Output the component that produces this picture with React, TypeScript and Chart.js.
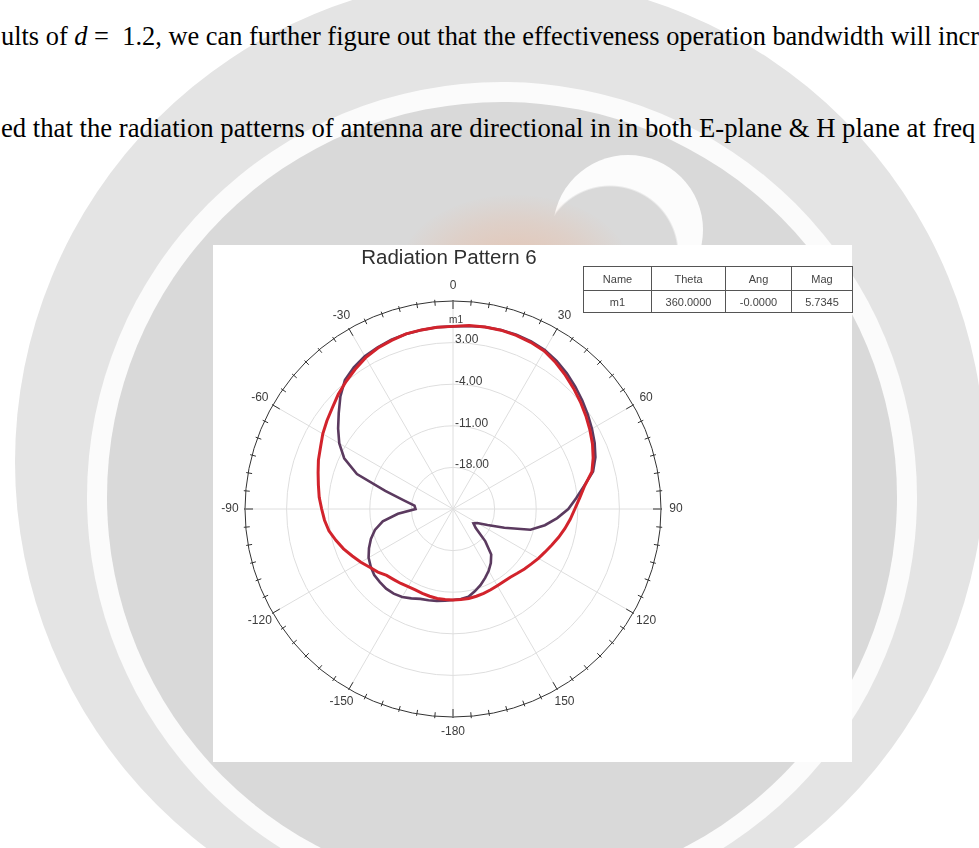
import React, { useEffect, useRef } from 'react';
import { Chart, registerables } from 'chart.js';

Chart.register(...registerables);

// ---- data ----
const thetaDeg = [
  0, 5, 10, 15, 20, 25, 30, 35, 40, 45, 50, 55, 60, 65, 70, 75, 80, 85,
  90, 95, 100, 105, 110, 115, 120, 125, 130, 135, 140, 145, 150, 155, 160, 165, 170, 175,
  180, 185, 190, 195, 200, 205, 210, 215, 220, 225, 230, 235, 240, 245, 250, 255, 260, 265,
  270, 275, 280, 285, 290, 295, 300, 305, 310, 315, 320, 325, 330, 335, 340, 345, 350, 355,
];

const redGain = [
  5.73, 6.0, 6.1, 6.15, 6.1, 5.95, 5.7, 5.1, 4.4, 3.7, 3.0, 2.3, 1.6, 0.9, 0.1, -0.8, -2.5, -3.6,
  -4.5, -5.2, -5.9, -6.6, -7.3, -7.9, -8.4, -8.9, -9.3, -9.7, -10.0, -10.1, -10.1, -10.0, -9.9, -9.8, -9.7, -9.7,
  -9.7, -9.7, -9.7, -9.8, -9.9, -10.0, -9.9, -9.7, -9.5, -9.2, -8.5, -7.9, -7.1, -6.3, -5.4, -4.6, -3.8, -3.3,
  -2.9, -2.4, -2.0, -1.5, -0.9, -0.4, 0.3, 0.9, 1.5, 2.3, 3.0, 3.7, 4.4, 4.9, 5.2, 5.5, 5.6, 5.7,
];

const purpleGain = [
  5.73, 5.9, 6.1, 6.2, 6.2, 6.1, 5.9, 5.4, 4.8, 4.1, 3.4, 2.7, 2.0, 1.3, 0.5, -0.6, -2.6, -4.2,
  -5.6, -7.4, -9.3, -11.5, -15.8, -18.6, -20.3, -20.8, -20.0, -17.3, -15.0, -13.9, -13.0, -12.2, -11.4, -10.7, -10.0, -9.8,
  -9.7, -9.5, -9.3, -9.1, -8.9, -8.4, -7.9, -7.6, -7.5, -7.6, -7.7, -8.1, -8.6, -9.4, -10.3, -11.4, -13.0, -15.7,
  -18.7, -18.5, -16.6, -13.2, -7.8, -4.8, -2.9, -1.4, 0.1, 1.8, 3.3, 4.1, 4.7, 5.0, 5.3, 5.5, 5.6, 5.7,
];

const angleTickLabels = ['0', '30', '60', '90', '120', '150', '-180', '-150', '-120', '-90', '-60', '-30'];
const angleTickValues = [0, 30, 60, 90, 120, 150, 180, 210, 240, 270, 300, 330];
const radialMin = -25;
const radialMax = 10;
const radialStep = 7;

const markerName = 'm1';
const markerTheta = 0;
const markerMag = 5.7345;

const chartTitle = 'Radiation Pattern 6';
const tableHead = ['Name', 'Theta', 'Ang', 'Mag'];
const tableRow = ['m1', '360.0000', '-0.0000', '5.7345'];
const tableColWidths = [67, 73, 65, 60];

const textLine1End = ' =\u00a0 1.2, we can further figure out that the effectiveness operation bandwidth will incr';
const textLine2 = 'ed that the radiation patterns of antenna are directional in in both E-plane & H plane at freq';

const SANS = '"Liberation Sans", Arial, sans-serif';

function PolarChart() {
  const ref = useRef<HTMLCanvasElement | null>(null);
  useEffect(() => {
    if (!ref.current) return;
    const decor = {
      id: 'polarDecor',
      afterDraw(chart: any) {
        const s = chart.scales.r;
        const ctx = chart.ctx;
        const R = s.drawingArea;
        ctx.save();
        // ring ticks
        ctx.strokeStyle = '#333';
        ctx.lineWidth = 1;
        for (let i = 0; i < thetaDeg.length; i++) {
          const major = thetaDeg[i] % 30 === 0;
          const a = s.getPointPosition(i, R - (major ? 8 : 4));
          const b = s.getPointPosition(i, R + (major ? 1 : 2));
          ctx.beginPath();
          ctx.moveTo(a.x, a.y);
          ctx.lineTo(b.x, b.y);
          ctx.stroke();
        }
        // angle labels
        ctx.font = '12px ' + SANS;
        ctx.fillStyle = '#3c3c3c';
        ctx.textAlign = 'center';
        ctx.textBaseline = 'middle';
        angleTickLabels.forEach((lab, k) => {
          const idx = thetaDeg.indexOf(angleTickValues[k]);
          const p = s.getPointPosition(idx, R + 15);
          ctx.fillText(lab, p.x, p.y);
        });
        // radial value labels
        ctx.textAlign = 'left';
        s.ticks.forEach((t: any) => {
          if (t.value <= radialMin || t.value >= radialMax) return;
          const d = s.getDistanceFromCenterForValue(t.value);
          ctx.fillText(t.value.toFixed(2), s.xCenter + 2, s.yCenter - d - 2.5);
        });
        // marker label
        const mi = thetaDeg.indexOf(markerTheta);
        const mp = s.getPointPosition(mi, s.getDistanceFromCenterForValue(markerMag));
        ctx.font = '10px ' + SANS;
        ctx.textAlign = 'center';
        ctx.fillText(markerName, mp.x + 3, mp.y - 6);
        // title
        ctx.font = '20.5px ' + SANS;
        ctx.fillStyle = '#2f2f2f';
        ctx.fillText(chartTitle, s.xCenter - 4, s.yCenter - R - 43);
        ctx.restore();
      },
    };
    const chart = new Chart(ref.current, {
      type: 'radar',
      data: {
        labels: thetaDeg.map(String),
        datasets: [
          {
            label: 'red',
            data: redGain,
            borderColor: '#d2232c',
            borderWidth: 3,
            pointRadius: 0,
            fill: false,
            tension: 0,
          },
          {
            label: 'purple',
            data: purpleGain,
            borderColor: '#5b3a5f',
            borderWidth: 2.6,
            pointRadius: 0,
            fill: false,
            tension: 0,
          },
        ],
      },
      options: {
        responsive: false,
        animation: false,
        layout: { padding: { left: 32, right: 191, top: 56, bottom: 45 } },
        plugins: { legend: { display: false }, title: { display: false }, tooltip: { enabled: false } },
        scales: {
          r: {
            min: radialMin,
            max: radialMax,
            ticks: { display: false, stepSize: radialStep },
            pointLabels: { display: false },
            grid: {
              circular: true,
              color: (c: any) => (c.tick && c.tick.value >= radialMax ? '#333' : '#dedede'),
              lineWidth: 1,
            },
            angleLines: {
              color: (c: any) => (thetaDeg[c.index] % 30 === 0 ? '#dedede' : 'rgba(0,0,0,0)'),
              lineWidth: (c: any) => (thetaDeg[c.index] % 30 === 0 ? 1 : 0),
            },
          },
        },
      },
      plugins: [decor],
    });
    return () => chart.destroy();
  }, []);
  return <canvas ref={ref} width={639} height={517} style={{ width: 639, height: 517, display: 'block' }} />;
}

export default function App() {
  const serif = '"Liberation Serif", "Times New Roman", serif';
  return (
    <div style={{ position: 'fixed', left: 0, top: 0, width: 979, height: 848, background: '#fff', overflow: 'hidden' }}>
      {/* watermark seal */}
      <div style={{ position: 'absolute', left: 500 - 485, top: 462 - 485, width: 970, height: 970, borderRadius: '50%', background: '#e4e4e4' }} />
      <div style={{ position: 'absolute', left: 502 - 415, top: 497 - 415, width: 830, height: 830, borderRadius: '50%', background: '#fbfbfb' }} />
      <div style={{ position: 'absolute', left: 502 - 395, top: 497 - 395, width: 790, height: 790, borderRadius: '50%', background: '#d9d9d9' }} />
      <div style={{ position: 'absolute', left: 553, top: 155, width: 150, height: 150, borderRadius: '50%', background: 'radial-gradient(circle at 38% 66%, rgba(217,217,217,0) 0px, rgba(217,217,217,0) 67px, #fcfcfc 69px)' }} />
      <div style={{ position: 'absolute', left: 400, top: 195, width: 230, height: 150, borderRadius: '50%', background: 'radial-gradient(ellipse at center, rgba(240,175,140,0.5) 0%, rgba(240,175,140,0.22) 45%, rgba(217,217,217,0) 72%)' }} />

      {/* page text */}
      <div style={{ position: 'absolute', left: 1, top: 23, fontFamily: serif, fontSize: 26.4, lineHeight: '26.4px', whiteSpace: 'nowrap', color: '#000' }}>
        ults of <i>d</i>{textLine1End}
      </div>
      <div style={{ position: 'absolute', left: 1, top: 115, fontFamily: serif, fontSize: 26.7, lineHeight: '26.7px', whiteSpace: 'nowrap', color: '#000' }}>
        {textLine2}
      </div>

      {/* figure */}
      <div style={{ position: 'absolute', left: 213, top: 245, width: 639, height: 517, background: '#fff' }}>
        <PolarChart />
      </div>
      <table style={{ position: 'absolute', left: 583, top: 266, borderCollapse: 'collapse', fontFamily: SANS, fontSize: 11, color: '#444', tableLayout: 'fixed' }}>
        <tbody>
          <tr style={{ height: 24 }}>
            {tableHead.map((h, i) => (
              <td key={h} style={{ width: tableColWidths[i], border: '1.5px solid #555', textAlign: 'center', padding: 0 }}>{h}</td>
            ))}
          </tr>
          <tr style={{ height: 22 }}>
            {tableRow.map((v, i) => (
              <td key={i} style={{ width: tableColWidths[i], border: '1.5px solid #555', textAlign: 'center', padding: 0 }}>{v}</td>
            ))}
          </tr>
        </tbody>
      </table>
    </div>
  );
}
